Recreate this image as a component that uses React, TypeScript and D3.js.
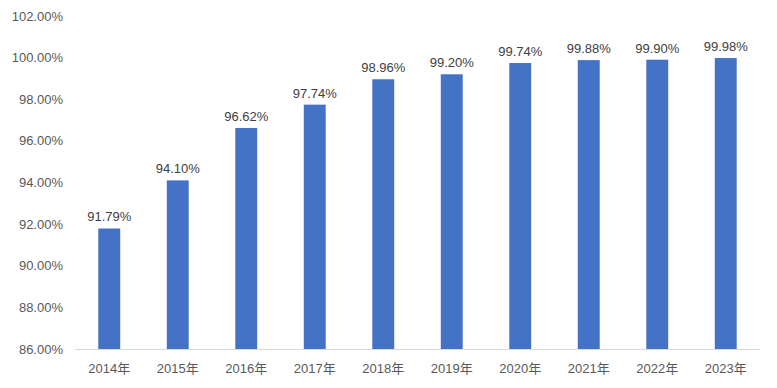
import React, { useEffect, useRef } from 'react';
import * as d3 from 'd3';

const years = ['2014年', '2015年', '2016年', '2017年', '2018年', '2019年', '2020年', '2021年', '2022年', '2023年'];
const rates = [91.79, 94.1, 96.62, 97.74, 98.96, 99.2, 99.74, 99.88, 99.9, 99.98];
const yTicks = [86, 88, 90, 92, 94, 96, 98, 100, 102];

const W = 777;
const H = 388;

export default function App() {
  const ref = useRef<SVGSVGElement>(null);

  useEffect(() => {
    const svg = d3.select(ref.current);
    svg.selectAll('*').remove();

    const left = 75, right = 760, top = 16, bottom = 349;
    const font = '"Liberation Sans", Arial, "Noto Sans CJK SC", sans-serif';

    const x = d3.scaleBand<string>().domain(years).range([left, right]).paddingInner(0.68).paddingOuter(0.34);
    const y = d3.scaleLinear().domain([86, 102]).range([bottom, top]);

    // y labels, no gridlines
    svg.append('g')
      .selectAll('text')
      .data(yTicks)
      .join('text')
      .attr('x', 63)
      .attr('y', d => y(d))
      .attr('dy', '0.35em')
      .attr('text-anchor', 'end')
      .attr('font-family', font)
      .attr('font-size', 13)
      .attr('fill', '#595959')
      .text(d => d.toFixed(2) + '%');

    // bars
    svg.append('g')
      .selectAll('rect')
      .data(rates)
      .join('rect')
      .attr('x', (d, i) => x(years[i])!)
      .attr('y', d => y(d))
      .attr('width', x.bandwidth())
      .attr('height', d => bottom - y(d))
      .attr('fill', '#4472C4');

    // value labels
    svg.append('g')
      .selectAll('text')
      .data(rates)
      .join('text')
      .attr('x', (d, i) => x(years[i])! + x.bandwidth() / 2)
      .attr('y', d => y(d) - 7)
      .attr('text-anchor', 'middle')
      .attr('font-family', font)
      .attr('font-size', 13)
      .attr('fill', '#404040')
      .text(d => d.toFixed(2) + '%');

    // x axis line
    svg.append('line')
      .attr('x1', left).attr('x2', right)
      .attr('y1', bottom + 0.5).attr('y2', bottom + 0.5)
      .attr('stroke', '#d9d9d9');

    // x labels
    svg.append('g')
      .selectAll('text')
      .data(years)
      .join('text')
      .attr('x', d => x(d)! + x.bandwidth() / 2)
      .attr('y', 368)
      .attr('dy', '0.35em')
      .attr('text-anchor', 'middle')
      .attr('font-family', font)
      .attr('font-size', 13)
      .attr('fill', '#595959')
      .text(d => d);
  }, []);

  return (
    <svg ref={ref} width={W} height={H} style={{ position: 'absolute', left: 0, top: 0, background: '#fff' }} />
  );
}
